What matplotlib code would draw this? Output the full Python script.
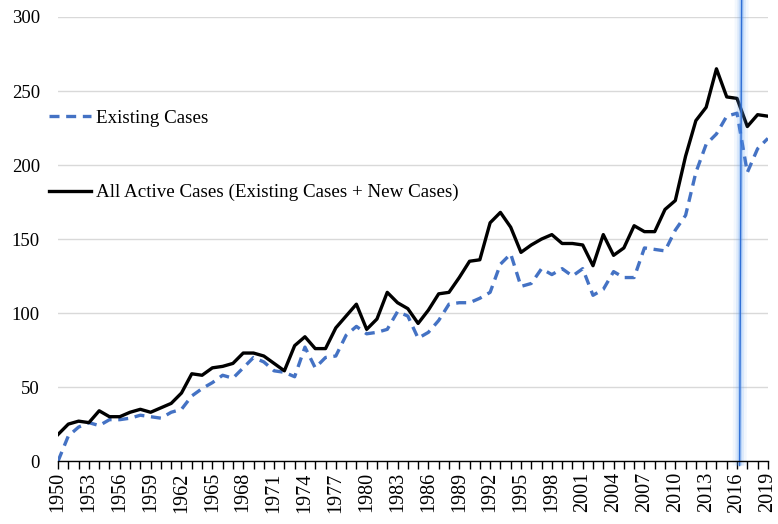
import matplotlib
matplotlib.use('Agg')
import matplotlib.pyplot as plt
import numpy as np

years = list(range(1950, 2020))
existing = [0, 17, 23, 26, 24, 28, 28, 29, 31, 30,
            29, 33, 35, 44, 49, 53, 58, 56, 63, 70,
            67, 61, 60, 57, 77, 63, 70, 71, 85, 91,
            86, 87, 89, 101, 98, 83, 87, 95, 106, 107,
            107, 110, 114, 133, 140, 118, 120, 130, 126, 130,
            125, 130, 112, 116, 128, 124, 124, 144, 143, 142,
            156, 166, 195, 214, 221, 233, 235, 195, 211, 218]
all_active = [18, 25, 27, 26, 34, 30, 30, 33, 35, 33,
              36, 39, 46, 59, 58, 63, 64, 66, 73, 73,
              71, 66, 61, 78, 84, 76, 76, 90, 98, 106,
              89, 96, 114, 107, 103, 93, 102, 113, 114, 124,
              135, 136, 161, 168, 158, 141, 146, 150, 153, 147,
              147, 146, 132, 153, 139, 144, 159, 155, 155, 170,
              176, 206, 230, 239, 265, 246, 245, 226, 234, 233]
label_years = list(range(1950, 2020, 3))
marker_year = 2016.25

plt.rcParams['font.family'] = ['Liberation Serif', 'DejaVu Serif']

fig = plt.figure(figsize=(7.78, 5.24), dpi=100)
ax = fig.add_axes([0.0746, 0.120, 0.9124, 0.8476])

ax.plot(years, existing, color='#4472C4', lw=2.4, linestyle=(0, (3, 2)),
        label='Existing Cases')
ax.plot(years, all_active, color='black', lw=2.4,
        label='All Active Cases (Existing Cases + New Cases)')

ax.set_xlim(1950, 2019)
ax.set_ylim(0, 300)
ax.set_yticks(range(0, 301, 50))
ax.yaxis.grid(True, color='#d9d9d9', lw=1)
ax.set_axisbelow(True)
for s in ['top', 'right', 'left']:
    ax.spines[s].set_visible(False)
ax.spines['bottom'].set_color('black')
ax.spines['bottom'].set_linewidth(1)

ax.set_xticks(label_years)
ax.set_xticklabels([str(y) for y in label_years], rotation=90)
ax.set_xticks(years, minor=True)
ax.tick_params(axis='x', which='both', direction='out', length=6, width=1,
               labelsize=14.5, pad=2)
ax.tick_params(axis='y', length=0, labelsize=13.5, pad=13)

# highlighted vertical marker with glow
for w, a in [(10, 0.08), (6, 0.15), (3, 0.3)]:
    ax.plot([marker_year + 0.2, marker_year], [312, -3], color='#5b9bf0',
            lw=w, alpha=a, clip_on=False, solid_capstyle='butt')
ax.plot([marker_year + 0.2, marker_year], [312, -3], color='#2f6fd6', lw=1,
        clip_on=False)

ax.legend(loc='upper left', bbox_to_anchor=(-0.037, 0.83), frameon=False,
          fontsize=13.7, labelspacing=3.0, handlelength=2.2, handletextpad=0.3)

fig.savefig('out.png', dpi=100)
